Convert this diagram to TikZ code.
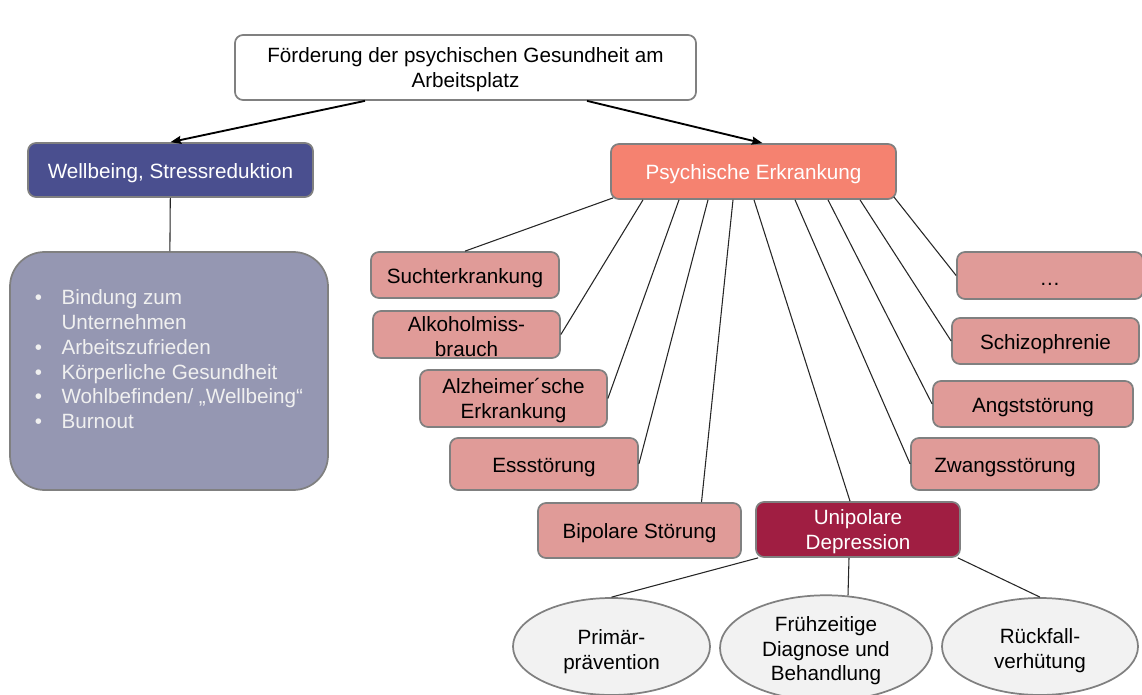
\documentclass[tikz,border=0pt]{standalone}
\usepackage{fontspec}
\setmainfont{Liberation Sans}
\usetikzlibrary{arrows.meta,positioning,shapes.geometric,calc}

\definecolor{wellblue}{RGB}{74,79,143}
\definecolor{listblue}{RGB}{149,151,178}
\definecolor{psysalmon}{RGB}{245,130,112}
\definecolor{illpink}{RGB}{224,155,152}
\definecolor{deprred}{RGB}{160,30,66}
\definecolor{framegray}{RGB}{128,128,128}
\definecolor{ovalgray}{RGB}{242,242,242}

\newcommand{\lift}[1]{\rule{0pt}{#1}}

\begin{document}
\begin{tikzpicture}[
  x=0.75pt, y=-0.75pt,
  font=\fontsize{15.5}{18.6}\selectfont,
  box/.style={draw=framegray, line width=1.3pt, rounded corners=6pt, align=center, inner sep=1pt,
              execute at begin node={\rule{0pt}{15.5pt}}},
  rootbox/.style={box, fill=white, minimum width=345.75pt, minimum height=48.75pt},
  head/.style={box, text=white, minimum width=213.75pt},
  ill/.style={box, fill=illpink, minimum width=141pt},
  oval/.style={ellipse, draw=framegray, line width=1.3pt, fill=ovalgray, align=center, inner sep=0pt},
  a/.style={-{Stealth[length=8pt, width=6pt, inset=1pt]}, line width=1.4pt, draw=black},
  link/.style={line width=0.8pt, draw=black!85}
]
\useasboundingbox (0,0) rectangle (1142,695);

\node[rootbox] (root) at (465.5,67.5) {\lift{15pt}Förderung der psychischen Gesundheit am\\Arbeitsplatz};

\node[head, fill=wellblue, minimum height=40.5pt] (well) at (170.5,170) {Wellbeing, Stressreduktion};
\node[head, fill=psysalmon, minimum height=41.25pt] (psy) at (753.5,171.5) {Psychische Erkrankung};

\draw[a] ($(root.south)+(-100.5,0)$) -- (well.north);
\draw[a] ($(root.south)+(121.5,0)$) -- ($(psy.north)+(9,0)$);

\node[box, fill=listblue, text=white!94!black, rounded corners=26pt, align=left,
      minimum width=238.5pt, minimum height=178.5pt] (lst) at (169,371)
  {\begin{tabular}{@{}p{20pt}@{}l@{}}
   •&Bindung zum\\
    &Unternehmen\\
   •&Arbeitszufrieden\\
   •&Körperliche Gesundheit\\
   •&Wohlbefinden/ „Wellbeing“\\
   •&Burnout\\[14pt]
   \end{tabular}};
\draw[link] (well) -- (lst);

\node[ill, minimum height=34.5pt] (sucht) at (465,275) {Suchterkrankung};
\node[ill, minimum height=35.25pt, minimum width=140.25pt] (alk) at (466.5,334.5) {\lift{14pt}Alkoholmiss-\\brauch};
\node[ill, minimum height=42.75pt, minimum width=140.25pt] (alz) at (513.5,398.5) {\lift{15pt}Alzheimer´sche\\Erkrankung};
\node[ill, minimum height=39pt] (ess) at (544,464) {Essstörung};
\node[ill, minimum height=41.25pt, minimum width=152.25pt] (bip) at (639.5,530.5) {Bipolare Störung};
\node[box, fill=deprred, text=white, minimum height=41.25pt, minimum width=153pt] (uni) at (858,529.5) {\lift{15pt}Unipolare\\Depression};
\node[ill, minimum height=35.25pt, minimum width=139.5pt] (dots) at (1050,275.5) {…};
\node[ill, minimum height=34.5pt, minimum width=140.25pt] (schizo) at (1045.5,341) {Schizophrenie};
\node[ill, minimum height=34.5pt, minimum width=150pt] (angst) at (1033,404) {Angststörung};
\node[ill, minimum height=39pt] (zwang) at (1005,464) {Zwangsstörung};

\draw[link] ($(psy.south west)+(3,-2)$) -- (sucht.north);
\draw[link] ($(psy.south)+(-110.5,0)$) -- (alk.east);
\draw[link] ($(psy.south)+(-74.5,0)$) -- (alz.east);
\draw[link] ($(psy.south)+(-45.5,0)$) -- (ess.east);
\draw[link] ($(psy.south)+(-20.5,0)$) -- ($(bip.north)+(62,0)$);
\draw[link] ($(psy.south)+(0.5,0)$) -- ($(uni.north)+(-8,0)$);
\draw[link] ($(psy.south)+(41.5,0)$) -- (zwang.west);
\draw[link] ($(psy.south)+(74.5,0)$) -- (angst.west);
\draw[link] ($(psy.south)+(106.5,0)$) -- (schizo.west);
\draw[link] ($(psy.south east)+(-3,-3)$) -- (dots.west);

\node[oval, minimum width=147.75pt, minimum height=72.75pt] (prim) at (611.5,646.5) {\lift{19.5pt}Primär-\\prävention};
\node[oval, minimum width=159pt, minimum height=78pt] (frueh) at (826,648) {\lift{15.5pt}Frühzeitige\\Diagnose und\\Behandlung};
\node[oval, minimum width=147pt, minimum height=72.75pt] (rueck) at (1040,646.5) {\lift{17pt}Rückfall-\\verhütung};

\draw[link] ($(uni.south west)+(3,0)$) -- (prim.north);
\draw[link] ($(uni.south)+(-9,0)$) -- ($(frueh.north)+(22,1)$);
\draw[link] ($(uni.south east)+(-3,0)$) -- (rueck.north);
\end{tikzpicture}
\end{document}
